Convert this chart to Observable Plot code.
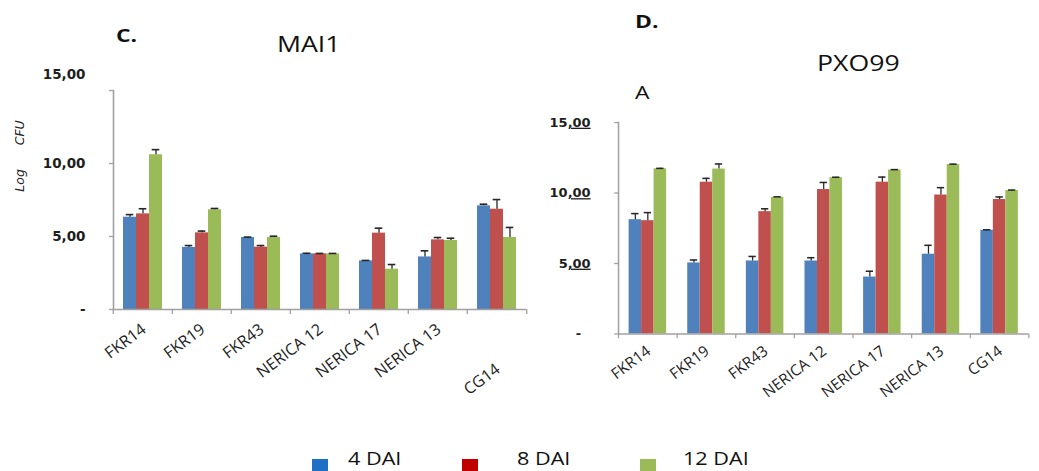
<!DOCTYPE html>
<html>
<head>
<meta charset="utf-8">
<script src="https://cdn.jsdelivr.net/npm/d3@7"></script>
<script src="https://cdn.jsdelivr.net/npm/@observablehq/plot@0.6"></script>
<style>
  body { margin: 0; background: #fff; }
  #fig { position: relative; width: 1039px; height: 471px; overflow: hidden; background: #fff; font-family: "Open Sans", sans-serif; color: #111; }
  .t { position: absolute; white-space: pre; line-height: 1; transform-origin: 0 0; }
  .panel { position: absolute; top: 0; }
  .sw { position: absolute; width: 16px; height: 16px; }
  .spell { text-decoration: underline wavy #3aa63a; text-decoration-thickness: 1px; }
</style>
</head>
<body>
<div id="fig"></div>
<script>
// Rice cultivars and sampling days
const cultivars = ["FKR14", "FKR19", "FKR43", "NERICA 12", "NERICA 17", "NERICA 13", "CG14"];
const days = ["4 DAI", "8 DAI", "12 DAI"];
const dayColors = ["#4F81BD", "#C0504D", "#9BBB59"];
const legendColors = ["#1F6FC4", "#C00000", "#9BBB59"];
const yTicks = [0, 5, 10, 15];

// Strain MAI1 — log CFU means and upper error
const mai1_4dai  = [6.32, 4.25, 4.93, 3.81, 3.33, 3.60, 7.10];
const mai1_8dai  = [6.55, 5.25, 4.27, 3.81, 5.23, 4.77, 6.87];
const mai1_12dai = [10.60, 6.83, 4.93, 3.81, 2.76, 4.73, 4.93];
const mai1_4dai_err  = [0.18, 0.13, 0.03, 0.04, 0.03, 0.42, 0.11];
const mai1_8dai_err  = [0.35, 0.12, 0.11, 0.03, 0.34, 0.16, 0.66];
const mai1_12dai_err = [0.35, 0.09, 0.09, 0.03, 0.32, 0.15, 0.69];

// Strain PXO99 — log CFU means and upper error
const pxo99_4dai  = [8.11, 5.04, 5.18, 5.18, 4.04, 5.66, 7.36];
const pxo99_8dai  = [8.04, 10.77, 8.68, 10.25, 10.77, 9.86, 9.54];
const pxo99_12dai = [11.72, 11.70, 9.70, 11.09, 11.63, 12.02, 10.18];
const pxo99_4dai_err  = [0.43, 0.21, 0.32, 0.23, 0.41, 0.63, 0.03];
const pxo99_8dai_err  = [0.57, 0.27, 0.20, 0.50, 0.36, 0.52, 0.18];
const pxo99_12dai_err = [0.03, 0.36, 0.03, 0.03, 0.03, 0.03, 0.03];

function makeRows(means, errs) {
  return cultivars.flatMap((c, i) =>
    days.map((d, j) => ({cultivar: c, day: d, value: means[j][i], err: errs[j][i]})));
}

const axisGray = "#a0a0a0";
const labelInk = "#1e1e1e";
const fmtTick = v => v === 0 ? "-" : d3.format(".2f")(v).replace(".", ",");
const fig = document.getElementById("fig");

function drawPanel(cfg) {
  const step = (cfg.width - cfg.ml - cfg.mr) / cultivars.length;
  // y tick labels live in the first facet only
  const yLabel = {fx: () => cultivars[0], frameAnchor: "left", textAnchor: "end",
    fontFamily: "DejaVu Sans", fontWeight: "bold", fontSize: 13.5, fill: labelInk};
  const xLabel = {fx: d => d, text: d => d, frameAnchor: "bottom", textAnchor: "end",
    rotate: -37, dx: 4, fontFamily: "Open Sans", fontSize: 16, fill: "#222"};
  const fxTicks = {anchor: "bottom", label: null, tickSize: 5, tickFormat: () => "",
    stroke: axisGray, strokeWidth: 1.3};
  const svg = Plot.plot({
    width: cfg.width, height: cfg.height,
    marginLeft: cfg.ml, marginRight: cfg.mr, marginTop: cfg.mt, marginBottom: cfg.mb,
    style: {background: "transparent", overflow: "visible"},
    fx: {domain: cultivars, paddingInner: 0, paddingOuter: 0, axis: null},
    x: {domain: days, paddingInner: 0, paddingOuter: cfg.pad, axis: null},
    y: {domain: [0, 15], axis: null},
    color: {domain: days, range: dayColors},
    marks: [
      Plot.barY(cfg.rows, {fx: "cultivar", x: "day", y: "value", fill: "day"}),
      Plot.ruleX(cfg.rows, {fx: "cultivar", x: "day", y1: "value", y2: d => d.value + d.err,
        stroke: "#262626", strokeWidth: 1.3}),
      Plot.tickY(cfg.rows, {fx: "cultivar", x: "day", y: d => d.value + d.err,
        stroke: "#262626", strokeWidth: 1.6, insetLeft: 2.7, insetRight: 2.7}),
      Plot.ruleY([0], {stroke: axisGray, strokeWidth: 1.6}),
      // category boundary ticks below the baseline
      Plot.axisFx({...fxTicks, dx: -step / 2}),
      Plot.axisFx({...fxTicks, ticks: [cultivars[cultivars.length - 1]], dx: step / 2}),
      Plot.frame({anchor: "left", facet: "super", stroke: axisGray, strokeWidth: 1.6}),
      Plot.axisY({ticks: yTicks, label: null, tickSize: 4, tickFormat: () => "", stroke: axisGray, strokeWidth: 1.3}),
      Plot.text(yTicks.filter(v => v > 0 && v !== cfg.raisedTick), {...yLabel, y: d => d, text: fmtTick, dx: -cfg.labelGap}),
      Plot.text(yTicks.filter(v => v === cfg.raisedTick), {...yLabel, y: d => d, text: fmtTick, dx: -cfg.labelGap, dy: -16}),
      Plot.text([0], {...yLabel, y: d => d, text: fmtTick, dx: -cfg.labelGap - cfg.zeroShift}),
      Plot.text(cultivars.filter(c => c !== cfg.lowered), {...xLabel, dy: cfg.labelDy}),
      Plot.text(cultivars.filter(c => c === cfg.lowered), {...xLabel, dy: cfg.labelDy + 40})
    ]
  });
  // spell-checker underline on the decimal part of the tick labels
  if (cfg.spellMark) {
    svg.querySelectorAll("text").forEach(t => {
      const s = t.textContent;
      if (/^\d+,00$/.test(s)) {
        const [whole, frac] = s.split(",");
        t.textContent = whole;
        const span = document.createElementNS("http://www.w3.org/2000/svg", "tspan");
        span.setAttribute("class", "spell");
        span.textContent = "," + frac;
        t.appendChild(span);
      }
    });
  }
  const holder = document.createElement("div");
  holder.className = "panel";
  holder.style.left = cfg.left + "px";
  holder.appendChild(svg);
  fig.appendChild(holder);
}

drawPanel({
  rows: makeRows([mai1_4dai, mai1_8dai, mai1_12dai], [mai1_4dai_err, mai1_8dai_err, mai1_12dai_err]),
  left: 0, width: 540, height: 420, ml: 111, mr: 13, mt: 90, mb: 111, pad: 0.73,
  labelGap: 28, zeroShift: 0, raisedTick: 15, lowered: "CG14", labelDy: 22, spellMark: false
});
drawPanel({
  rows: makeRows([pxo99_4dai, pxo99_8dai, pxo99_12dai], [pxo99_4dai_err, pxo99_8dai_err, pxo99_12dai_err]),
  left: 520, width: 540, height: 420, ml: 102, mr: 11, mt: 127, mb: 73, pad: 0.76,
  labelGap: 29, zeroShift: 10, raisedTick: null, lowered: null, labelDy: 20, spellMark: true
});

// Text placed by baseline; Open Sans baseline sits 0.888em below the top of a 1em line box
function addText(str, {left, baseline, size, weight = "normal", scale = 1.27, family = "Open Sans"}) {
  const el = document.createElement("div");
  el.className = "t";
  el.textContent = str;
  el.style.left = left + "px";
  el.style.top = (baseline - 0.888 * size) + "px";
  el.style.fontSize = size + "px";
  el.style.fontWeight = weight;
  el.style.fontFamily = family;
  el.style.transform = `scaleX(${scale})`;
  fig.appendChild(el);
  return el;
}

addText("C.", {left: 116, baseline: 42, size: 18, weight: "bold"});
addText("MAI1", {left: 277, baseline: 53, size: 21});
addText("D.", {left: 635, baseline: 28, size: 18, weight: "bold"});
addText("PXO99", {left: 817, baseline: 72, size: 21});
addText("A", {left: 635, baseline: 99, size: 18});

// y-axis title of the MAI1 panel
const yt = document.createElement("div");
yt.className = "t";
yt.textContent = "Log      CFU";
Object.assign(yt.style, {left: "20px", top: "156px", fontFamily: "DejaVu Sans", fontStyle: "italic",
  fontSize: "12.5px", color: "#222", transformOrigin: "50% 50%", transform: "translate(-50%,-50%) rotate(-90deg)"});
fig.appendChild(yt);

// legend
const swatchLeft = [312, 462, 640];
const legendTextLeft = [348, 517, 683];
days.forEach((d, i) => {
  const sw = document.createElement("div");
  sw.className = "sw";
  Object.assign(sw.style, {left: swatchLeft[i] + "px", top: "459px", background: legendColors[i]});
  fig.appendChild(sw);
  addText(d, {left: legendTextLeft[i], baseline: 465, size: 18, scale: 1.2});
});
</script>
</body>
</html>
